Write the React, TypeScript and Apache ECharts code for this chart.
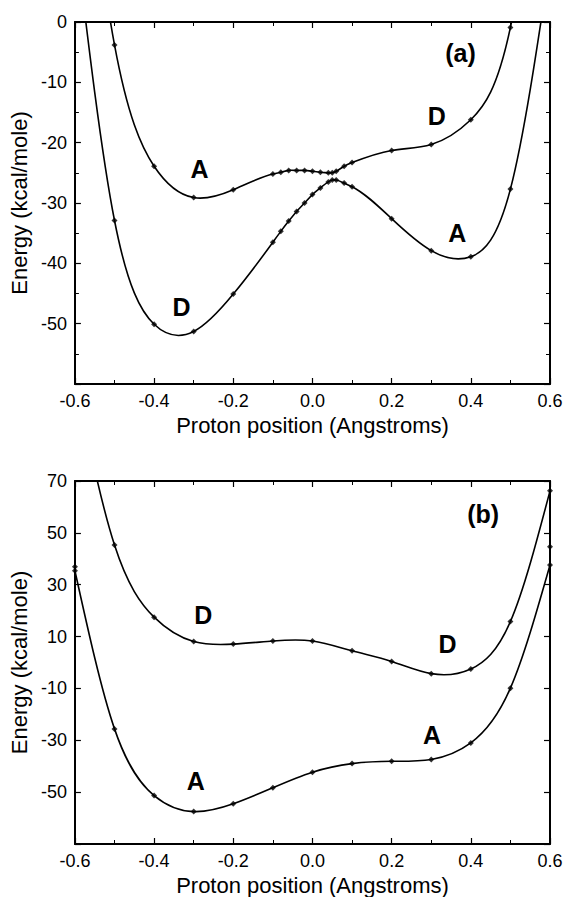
import React, { useEffect, useRef } from "react";
import * as echarts from "echarts";

// ---------- data ----------
// Panel (a)
const xA = [-0.6, -0.5, -0.4, -0.3, -0.2, -0.1, -0.08, -0.06, -0.04, -0.02, 0, 0.02, 0.04, 0.05, 0.06, 0.08, 0.1, 0.2, 0.3, 0.4, 0.5, 0.6];
const aUpper = [45, -3.8, -23.9, -29.1, -27.8, -25.2, -24.9, -24.6, -24.6, -24.6, -24.75, -24.9, -25.0, -25.0, -24.75, -23.9, -23.3, -21.3, -20.3, -16.2, -0.9, 45];
const aLower = [15, -32.9, -50.1, -51.3, -45.1, -36.5, -34.7, -33.0, -31.4, -30.0, -28.6, -27.5, -26.5, -26.2, -26.2, -26.7, -27.3, -32.6, -37.9, -38.9, -27.7, 10];

// Panel (b)
const xBUpper = [-0.6, -0.5, -0.4, -0.3, -0.2, -0.1, 0, 0.1, 0.2, 0.3, 0.4, 0.5, 0.6];
const bUpper = [110, 45.3, 17.5, 8.1, 7.1, 8.3, 8.3, 4.5, 0.4, -4.3, -2.5, 15.8, 66.2];
const xBLower = [-0.6, -0.6, -0.5, -0.4, -0.3, -0.2, -0.1, 0, 0.1, 0.2, 0.3, 0.4, 0.5, 0.6, 0.6];
const bLower = [36.9, 35.4, -25.6, -51.3, -57.5, -54.5, -48.3, -42.3, -39.0, -38.1, -37.4, -31.0, -9.9, 37.6, 44.6];

// annotation texts (data coordinates)
const annotA = [
  { text: "A", x: -0.285, y: -24.4 },
  { text: "D", x: -0.331, y: -47.3 },
  { text: "D", x: 0.314, y: -15.6 },
  { text: "A", x: 0.366, y: -34.9 },
];
const panelTagA = { text: "(a)", x: 0.374, y: -5.1 };
const annotB = [
  { text: "D", x: -0.276, y: 18.5 },
  { text: "A", x: -0.295, y: -45.7 },
  { text: "D", x: 0.341, y: 7.3 },
  { text: "A", x: 0.302, y: -28 },
];
const panelTagB = { text: "(b)", x: 0.431, y: 57.3 };

const X_MIN = -0.6;
const X_MAX = 0.6;
const X_STEP = 0.2;
const YA = { min: -60, max: 0, step: 10 };
const YB = { min: -70, max: 70, step: 20 };

const X_TITLE = "Proton position (Angstroms)";
const Y_TITLE = "Energy (kcal/mole)";

const FONT = '"Liberation Sans", Arial, Helvetica, sans-serif';

function zip(xs: number[], ys: number[]) {
  return xs.map((x, i) => [x, ys[i]]);
}

function fmtX(v: number) {
  if (Math.abs(v) < 1e-9) return "0.0";
  return v.toFixed(1);
}

// Natural cubic spline (function of x) -> bezier segments in data space.
// Runs of equal x are joined with straight segments.
function splineBeziers(xs: number[], ys: number[]) {
  const runs: { x: number[]; y: number[] }[] = [];
  let cur = { x: [xs[0]], y: [ys[0]] };
  for (let i = 1; i < xs.length; i++) {
    if (Math.abs(xs[i] - xs[i - 1]) < 1e-12) {
      runs.push(cur);
      cur = { x: [xs[i]], y: [ys[i]] };
    } else {
      cur.x.push(xs[i]);
      cur.y.push(ys[i]);
    }
  }
  runs.push(cur);
  const out: { kind: "M" | "L" | "C"; pts: number[][] }[] = [];
  runs.forEach((run, ri) => {
    const x = run.x;
    const y = run.y;
    const n = x.length;
    if (ri === 0) out.push({ kind: "M", pts: [[x[0], y[0]]] });
    else out.push({ kind: "L", pts: [[x[0], y[0]]] });
    if (n < 2) return;
    const h: number[] = [];
    for (let i = 0; i < n - 1; i++) h.push(x[i + 1] - x[i]);
    const M = new Array(n).fill(0);
    if (n > 2) {
      const a: number[] = [], b: number[] = [], c: number[] = [], d: number[] = [];
      for (let i = 1; i < n - 1; i++) {
        a.push(h[i - 1]);
        b.push(2 * (h[i - 1] + h[i]));
        c.push(h[i]);
        d.push(6 * ((y[i + 1] - y[i]) / h[i] - (y[i] - y[i - 1]) / h[i - 1]));
      }
      const m = b.length;
      for (let i = 1; i < m; i++) {
        const w = a[i] / b[i - 1];
        b[i] -= w * c[i - 1];
        d[i] -= w * d[i - 1];
      }
      const sol = new Array(m).fill(0);
      sol[m - 1] = d[m - 1] / b[m - 1];
      for (let i = m - 2; i >= 0; i--) sol[i] = (d[i] - c[i] * sol[i + 1]) / b[i];
      for (let i = 0; i < m; i++) M[i + 1] = sol[i];
    }
    for (let i = 0; i < n - 1; i++) {
      const hi = h[i];
      const s = (y[i + 1] - y[i]) / hi;
      const mL = s - (hi * (2 * M[i] + M[i + 1])) / 6;
      const mR = s + (hi * (M[i] + 2 * M[i + 1])) / 6;
      out.push({
        kind: "C",
        pts: [
          [x[i] + hi / 3, y[i] + (mL * hi) / 3],
          [x[i + 1] - hi / 3, y[i + 1] - (mR * hi) / 3],
          [x[i + 1], y[i + 1]],
        ],
      });
    }
  });
  return out;
}

function xAxis(gridIndex: number, position: string, labels: boolean) {
  return {
    type: "value",
    gridIndex,
    position,
    min: X_MIN,
    max: X_MAX,
    interval: X_STEP,
    axisLine: { show: true, onZero: false, lineStyle: { color: "#000", width: 2 } },
    axisTick: { show: true, inside: true, length: 6, lineStyle: { color: "#000", width: 1.2 } },
    minorTick: { show: true, splitNumber: 2, length: 4, lineStyle: { color: "#000", width: 1 } },
    splitLine: { show: false },
    minorSplitLine: { show: false },
    axisLabel: {
      show: labels,
      formatter: fmtX,
      color: "#000",
      fontSize: 18,
      fontFamily: FONT,
      margin: 8,
      showMinLabel: true,
      showMaxLabel: true,
    },
    name: labels ? X_TITLE : "",
    nameLocation: "middle",
    nameGap: 30,
    nameTextStyle: { color: "#000", fontSize: 22, fontFamily: FONT },
  };
}

function yAxis(gridIndex: number, position: string, labels: boolean, r: { min: number; max: number; step: number }, minor: boolean) {
  return {
    type: "value",
    gridIndex,
    position,
    min: r.min,
    max: r.max,
    interval: r.step,
    axisLine: { show: true, onZero: false, lineStyle: { color: "#000", width: 2 } },
    axisTick: { show: true, inside: true, length: 6, lineStyle: { color: "#000", width: 1.2 } },
    minorTick: { show: minor, splitNumber: 2, length: 4, lineStyle: { color: "#000", width: 1 } },
    splitLine: { show: false },
    minorSplitLine: { show: false },
    axisLabel: {
      show: labels,
      formatter: (v: number) => (Math.abs(v - r.min) < 1e-9 ? "" : String(Math.round(v))),
      color: "#000",
      fontSize: 18,
      fontFamily: FONT,
      margin: 8,
      showMinLabel: true,
      showMaxLabel: true,
    },
    name: labels ? Y_TITLE : "",
    nameLocation: "middle",
    nameGap: 30,
    nameRotate: 90,
    nameTextStyle: { color: "#000", fontSize: 22, fontFamily: FONT },
  };
}

function curve(xi: number, yi: number, xs: number[], ys: number[]) {
  const segs = splineBeziers(xs, ys);
  return {
    type: "custom",
    xAxisIndex: xi,
    yAxisIndex: yi,
    data: zip(xs, ys),
    clip: true,
    silent: true,
    z: 2,
    renderItem: (params: any, api: any) => {
      if (params.dataIndexInside !== 0) return null;
      let d = "";
      segs.forEach((s) => {
        const p = s.pts.map((q) => api.coord(q));
        if (s.kind === "M") d += `M${p[0][0]},${p[0][1]}`;
        else if (s.kind === "L") d += `L${p[0][0]},${p[0][1]}`;
        else d += `C${p[0][0]},${p[0][1]} ${p[1][0]},${p[1][1]} ${p[2][0]},${p[2][1]}`;
      });
      return {
        type: "path",
        shape: { pathData: d },
        style: { fill: "none", stroke: "#000", lineWidth: 1.6 },
      };
    },
  };
}

function markers(xi: number, yi: number, xs: number[], ys: number[]) {
  return {
    type: "scatter",
    xAxisIndex: xi,
    yAxisIndex: yi,
    data: zip(xs, ys),
    clip: true,
    silent: true,
    symbol: "diamond",
    symbolSize: 6,
    itemStyle: { color: "#000" },
    z: 3,
  };
}

export default function App() {
  const ref = useRef<HTMLDivElement>(null);

  useEffect(() => {
    document.body.style.margin = "0";
    if (!ref.current) return;
    const chart = echarts.init(ref.current, null, { renderer: "svg" });
    chart.setOption({
      animation: false,
      backgroundColor: "#fff",
      grid: [
        { left: 72, top: 22, width: 478, height: 362, containLabel: false },
        { left: 72, top: 481, width: 478, height: 364, containLabel: false },
      ],
      xAxis: [
        xAxis(0, "bottom", true),
        xAxis(0, "top", false),
        xAxis(1, "bottom", true),
        xAxis(1, "top", false),
      ],
      yAxis: [
        yAxis(0, "left", true, YA, true),
        yAxis(0, "right", false, YA, true),
        yAxis(1, "left", true, YB, false),
        yAxis(1, "right", false, YB, false),
      ],
      series: [
        curve(0, 0, xA, aUpper),
        curve(0, 0, xA, aLower),
        curve(2, 2, xBUpper, bUpper),
        curve(2, 2, xBLower, bLower),
        markers(0, 0, xA, aUpper),
        markers(0, 0, xA, aLower),
        markers(2, 2, xBUpper, bUpper),
        markers(2, 2, xBLower, bLower),
      ],
    });

    const mk = (gridIndex: number, a: { text: string; x: number; y: number }, size: number) => {
      const p = chart.convertToPixel({ gridIndex } as any, [a.x, a.y]) as number[];
      return {
        type: "text",
        x: p[0],
        y: p[1],
        silent: true,
        z: 10,
        style: {
          text: a.text,
          fill: "#000",
          fontSize: size,
          fontWeight: "bold",
          fontFamily: FONT,
          align: "center",
          verticalAlign: "middle",
        },
      };
    };
    const graphic = [
      ...annotA.map((a) => mk(0, a, 25)),
      mk(0, panelTagA, 25),
      ...annotB.map((a) => mk(1, a, 25)),
      mk(1, panelTagB, 25),
    ];
    chart.setOption({ graphic });

    return () => chart.dispose();
  }, []);

  return <div ref={ref} style={{ width: 569, height: 897 }} />;
}
